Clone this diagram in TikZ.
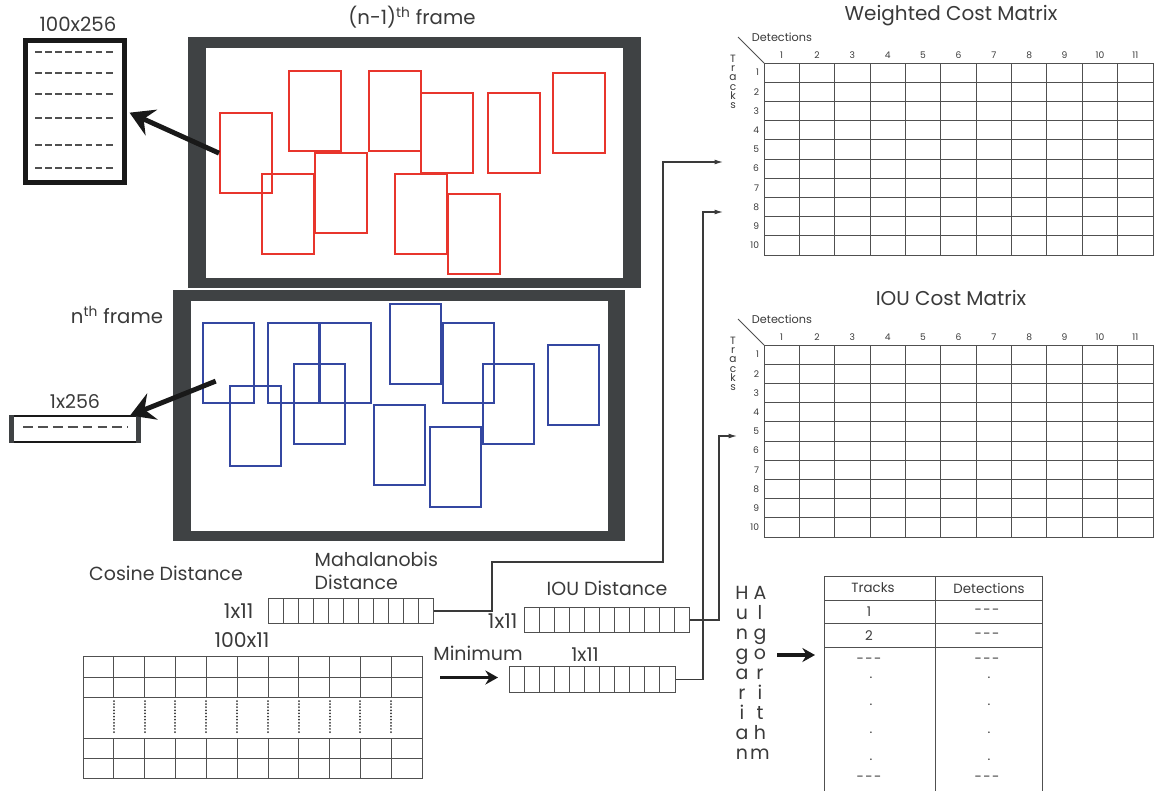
\documentclass[tikz,border=0pt]{standalone}
\usepackage{fontspec}
\setmainfont{Poppins}
\usetikzlibrary{arrows.meta,positioning,calc}
\definecolor{framegray}{HTML}{3F4244}
\definecolor{boxred}{HTML}{E8352C}
\definecolor{boxblue}{HTML}{3447A1}
\definecolor{textgray}{HTML}{3A3A3A}
\definecolor{gridgray}{HTML}{505050}
\tikzset{
  redbox/.style={draw=boxred, line width=1.6pt, minimum width=1.3cm, minimum height=2cm, anchor=north west, inner sep=0pt},
  bluebox/.style={draw=boxblue, line width=1.6pt, minimum width=1.28cm, minimum height=2cm, anchor=north west, inner sep=0pt},
  cellbox/.style={draw=gridgray, line width=0.7pt, anchor=north west, inner sep=0pt},
  gridline/.style={draw=gridgray, line width=0.6pt},
  dashline/.style={draw=gridgray, line width=0.9pt, dash pattern=on 4.8pt off 2.4pt},
  dotline/.style={draw=black!80, line width=1.4pt, line cap=round, dash pattern=on 0.01pt off 2.2pt},
  txt/.style={text=textgray, font=\fontsize{13.5}{15}\selectfont, inner sep=1pt},
  tabtxt/.style={text=textgray, font=\fontsize{9.5}{11}\selectfont, inner sep=0.5pt},
  tinytxt/.style={text=textgray, font=\fontsize{6.5}{6.6}\selectfont, inner sep=0.5pt},
  smalltxt/.style={text=textgray, font=\fontsize{8}{9}\selectfont, inner sep=0.5pt},
  edge/.style={-{Latex[length=6pt,width=3.5pt]}, line width=0.8pt, draw=textgray},
  bigedge/.style={-{Stealth[length=17pt,width=20pt,inset=6pt]}, line width=3.5pt, draw=black!90},
  midedge/.style={-{Stealth[length=9pt,width=10pt,inset=3pt]}, line width=2.2pt, draw=black!90}
}

\begin{document}
\begin{tikzpicture}[x=0.025cm, y=-0.025cm]
\useasboundingbox (0,0) rectangle (1161,790);
\fill[white] (0,0) rectangle (1161,790);

% the two frames
\node[fill=framegray, anchor=north west, minimum width=11.325cm, minimum height=6.275cm, inner sep=0pt] (prevframe) at (188,37) {};
\fill[white] (206,48) rectangle (623,278);
\node[txt, font=\fontsize{14}{16}\selectfont] (prevtitle) at (412,17) {(n-1)\textsuperscript{th} frame};
\node[fill=framegray, anchor=north west, minimum width=11.3cm, minimum height=6.275cm, inner sep=0pt] (curframe) at (173,290) {};
\fill[white] (191,301) rectangle (608,531);
\node[txt, font=\fontsize{14}{16}\selectfont] (curtitle) at (117,315) {n\textsuperscript{th} frame};

\foreach \bx/\by [count=\k] in {219/112, 288/70, 368/70, 420/92, 487/92, 552/72, 261/173, 314/152, 394/173, 447/193}
  \node[redbox] (r\k) at (\bx,\by) {};
\foreach \bx/\by [count=\k] in {202/322, 267/322, 319/322, 389/303, 442/322, 547/344, 229/385, 293/363, 373/404, 429/426, 482/363}
  \node[bluebox] (b\k) at (\bx,\by) {};

% appearance features
\node[draw=black!90, line width=3.5pt, minimum width=2.475cm, minimum height=3.55cm, inner sep=0pt] (feat) at (75,111.5) {};
\node[txt, font=\fontsize{14}{16}\selectfont] (feattitle) at (78,24) {100x256};
\foreach \y in {52,73,94,118,145,168}
  \draw[dashline] (35,\y) -- (115,\y);
\node[draw=black!90, line width=0.8pt, minimum width=3.15cm, minimum height=0.65cm, inner sep=0pt] (vec) at (75,429) {};
\draw[framegray, line width=3pt] (vec.north west) -- (vec.south west);
\draw[framegray, line width=3pt] (vec.north east) -- (vec.south east);
\draw[dashline, dash pattern=on 7pt off 3.6pt] (23,427) -- (128,427);
\node[txt] (vectitle) at (75,402) {1x256};

\draw[bigedge, shorten >=2pt] (r1.west) -- (feat.east);
\draw[bigedge] ($(b1.center)+(-13,18)$) -- ([xshift=-6pt]vec.north east);

% distances
\node[txt] (cosine) at (166,573) {Cosine Distance};
\node[txt, font=\fontsize{13.5}{16}\selectfont, align=left, anchor=west] (mahatitle) at (313,571) {Mahalanobis\\Distance};
\node[cellbox, minimum width=4.125cm, minimum height=0.625cm] (maha) at (268,598) {};
\foreach \i in {1,...,10}
  \draw[gridline] (268+\i*15,598) -- ++(0,25);
\node[txt, font=\fontsize{14.5}{16}\selectfont, anchor=east] at (255,611) {1x11};

\node[txt, font=\fontsize{14.5}{16}\selectfont] (gridtitle) at (242,640) {100x11};
\node[cellbox, minimum width=8.475cm, minimum height=3.05cm] (grid) at (83,656) {};
\foreach \y in {677,697,738,758}
  \draw[gridline] (83,\y) -- (422,\y);
\foreach \i in {1,...,10} {
  \draw[gridline] (83+\i*30.82,656) -- (83+\i*30.82,697);
  \draw[gridline] (83+\i*30.82,738) -- (83+\i*30.82,778);
  \draw[dotline] (83+\i*30.82,701) -- (83+\i*30.82,735);
}

\node[txt] (ioutitle) at (607,588) {IOU Distance};
\node[cellbox, minimum width=4.125cm, minimum height=0.625cm] (ioud) at (524,607) {};
\foreach \i in {1,...,10}
  \draw[gridline] (524+\i*15,607) -- ++(0,25);
\node[txt, font=\fontsize{14.5}{16}\selectfont, anchor=east] at (519,621) {1x11};

\node[txt] (mintitle) at (478,653) {Minimum};
\node[cellbox, minimum width=4.15cm, minimum height=0.65cm] (minbox) at (509,666) {};
\foreach \i in {1,...,10}
  \draw[gridline] (509+\i*15.09,666) -- ++(0,26);
\node[txt] at (585,655) {1x11};
\draw[midedge] ($(minbox.west)+(-69,-2)$) -- ($(minbox.west)+(-11,-2)$);

% cost matrices
\foreach \mat/\oy/\ttl in {wcm/0/Weighted Cost Matrix, iocm/282/IOU Cost Matrix} {
  \node[txt, font=\fontsize{14.2}{17}\selectfont] (\mat-title) at (951,16+\oy) {\ttl};
  \node[cellbox, minimum width=9.725cm, minimum height=4.8cm] (\mat) at (764,63+\oy) {};
  \foreach \i in {1,...,10}
    \draw[gridline] (764+\i*35.36,63+\oy) -- ++(0,192);
  \foreach \j in {1,...,9}
    \draw[gridline] (764,63+\oy+\j*19.2) -- ++(389,0);
  \foreach \i in {1,...,11}
    \node[tinytxt] at (764+\i*35.36-17.7,55+\oy) {\i};
  \foreach \j in {1,...,10}
    \node[tinytxt, anchor=east] at (760,63+\oy+\j*19.2-9.6) {\j};
  \draw[gridline] (738,37+\oy) -- (\mat.north west);
  \node[smalltxt, anchor=west] at (751,37+\oy) {Detections};
  \node[tinytxt, font=\fontsize{7.5}{6.6}\selectfont, align=center, anchor=north] at (733,54+\oy) {T\\r\\a\\c\\k\\s};
}
\coordinate (wcmin1) at (723,162);
\coordinate (wcmin2) at (723,212);
\coordinate (iocmin) at (737,436);

\draw[edge] (maha.east) -| (492,562) -| (663,162) -- (wcmin1);
\draw[edge] (ioud.east) -| (719,436) -- (iocmin);
\draw[edge] (minbox.east) -| (703,212) -- (wcmin2);

% assignment
\node[txt, font=\fontsize{13.5}{14.2}\selectfont, align=center, anchor=north] (hun) at (742,585) {H\\u\\n\\g\\a\\r\\i\\a\\n};
\node[txt, font=\fontsize{13.5}{14.2}\selectfont, align=center, anchor=north] (alg) at (760,585) {A\\l\\g\\o\\r\\i\\t\\h\\m};
\coordinate (tabin) at (815,655);
\draw[midedge] ($(alg.east |- tabin)+(6,0)$) -- (tabin);

\node[draw=gridgray, line width=0.8pt, anchor=north west, minimum width=5.45cm, minimum height=5.4cm, inner sep=0pt] (hungtab) at (824,576) {};
\draw[gridline] (935,576) -- (935,792);
\foreach \y in {600,623,647}
  \draw[gridline] (824,\y) -- (1042,\y);
\node[tabtxt] at (873,588) {Tracks};
\node[tabtxt] at (989,588) {Detections};
\node[tabtxt] at (869,612) {1};
\node[tabtxt] at (869,636) {2};
\foreach \y in {612,636}
  \node[tabtxt] at (987,\y) {-\kern1pt-\kern1pt-};
\foreach \x in {869,987} {
  \node[tabtxt] at (\x,661) {-\kern1pt-\kern1pt-};
  \foreach \y in {678,705,733,760}
    \node[tabtxt] at (\x+2,\y) {.};
  \node[tabtxt] at (\x,779) {-\kern1pt-\kern1pt-};
}
\end{tikzpicture}
\end{document}
